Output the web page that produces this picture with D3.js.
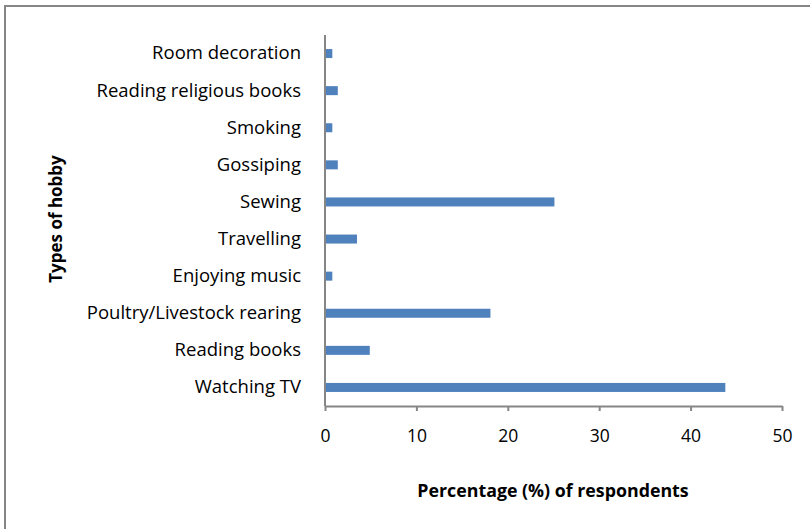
<!DOCTYPE html>
<html><head><meta charset="utf-8">
<script src="https://cdn.jsdelivr.net/npm/d3@7"></script>
<style>body{margin:0;background:#fff}svg{display:block}text{font-family:"Open Sans",sans-serif;fill:#000}</style>
</head><body>
<svg id="c" width="810" height="529"></svg>
<script>
const categories = ["Watching TV","Reading books","Poultry/Livestock rearing","Enjoying music","Travelling","Sewing","Gossiping","Smoking","Reading religious books","Room decoration"];
const values = [43.8, 4.9, 18.1, 0.8, 3.5, 25.1, 1.4, 0.8, 1.4, 0.8];
const xTicks = [0, 10, 20, 30, 40, 50];
const xTitle = "Percentage (%) of respondents";
const yTitle = "Types of hobby";

const svg = d3.select("#c");
svg.append("rect").attr("x",5).attr("y",6).attr("width",830).attr("height",560)
  .attr("fill","none").attr("stroke","#868686").attr("stroke-width",2);

const L = 325, R = 782, T = 35, B = 406;
const x = d3.scaleLinear().domain([0,50]).range([L,R]);
const y = d3.scaleBand().domain(categories.slice().reverse()).range([T,B]).paddingInner(0.76).paddingOuter(0.38);

svg.selectAll("rect.bar").data(categories).enter().append("rect").attr("class","bar")
  .attr("x", x(0)).attr("y", d => y(d) + y.bandwidth()/2 - 4.5)
  .attr("width", (d,i) => x(values[i]) - x(0)).attr("height", 9)
  .attr("fill","#4F81BD");

const xa = svg.append("g").attr("transform",`translate(0,${B})`)
  .call(d3.axisBottom(x).tickValues(xTicks).tickSize(5).tickPadding(19).tickSizeOuter(0));
xa.select(".domain").attr("stroke","#868686").attr("stroke-width",2);
xa.selectAll(".tick line").attr("stroke","#868686").attr("stroke-width",2);
xa.selectAll("text").attr("font-size",17.5).attr("font-family","Open Sans");

const ya = svg.append("g").attr("transform",`translate(${L},0)`)
  .call(d3.axisLeft(y).tickSize(0).tickPadding(24));
ya.select(".domain").attr("stroke","#868686").attr("stroke-width",2).attr("d",`M0,${T}V${B}`);
ya.selectAll("text").attr("font-size",18.5).attr("font-family","Open Sans");

svg.append("text").attr("x",553).attr("y",497).attr("text-anchor","middle")
  .attr("font-size",17.8).attr("font-weight","bold").text(xTitle);
svg.append("text").attr("transform","translate(62,219) rotate(-90)").attr("text-anchor","middle")
  .attr("font-size",17).attr("font-weight","bold").text(yTitle);
</script>
</body></html>
